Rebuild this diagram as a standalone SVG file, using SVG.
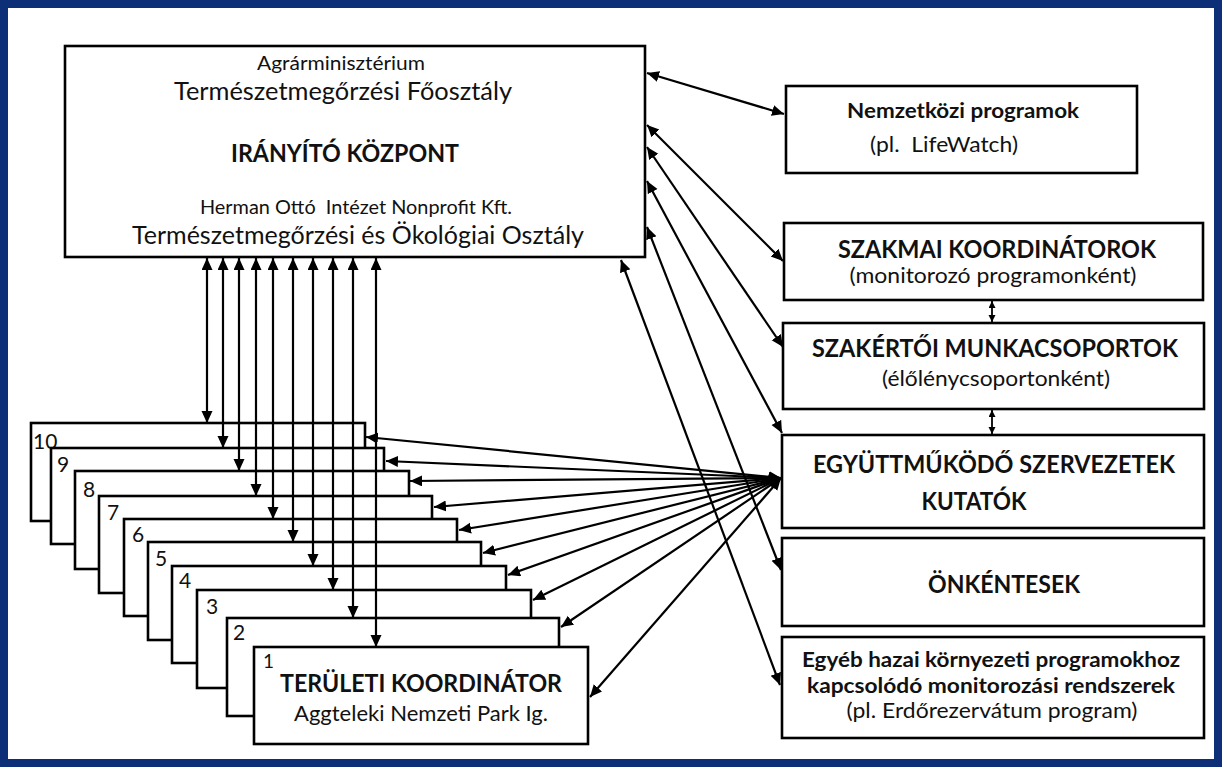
<svg xmlns="http://www.w3.org/2000/svg" width="1222" height="767" viewBox="0 0 1222 767">
<style>
  .box { fill: #ffffff; stroke: #000000; stroke-width: 2.6; }
  .t { font-family: Lato, "Liberation Sans", sans-serif; fill: #111111; text-anchor: middle; }
  .r27 { font-size: 24.3px; }
  .r24 { font-size: 21.6px; }
  .r21 { font-size: 19.5px; }
  .b27 { font-size: 24.3px; font-weight: bold; }
  .b24 { font-size: 21.6px; font-weight: bold; }
  .num { font-family: Lato, "Liberation Sans", sans-serif; font-size: 21px; fill: #111111; }
  .ln { fill: none; stroke: #000000; stroke-width: 2.2; marker-start: url(#ah); marker-end: url(#ah); }
  .sm { fill: none; stroke: #000000; stroke-width: 1.8; marker-start: url(#ahs); marker-end: url(#ahs); }
</style>
<defs>
  <marker id="ah" markerUnits="userSpaceOnUse" markerWidth="13" markerHeight="12" refX="12" refY="5.5" orient="auto-start-reverse">
    <path d="M0,0 L12,5.5 L0,11 z" fill="#000000"/>
  </marker>
  <marker id="ahs" markerUnits="userSpaceOnUse" markerWidth="8" markerHeight="8" refX="7" refY="3.5" orient="auto-start-reverse">
    <path d="M0,0 L7,3.5 L0,7 z" fill="#000000"/>
  </marker>
</defs>
<rect x="0" y="0" width="1222" height="767" fill="#ffffff"/>
<rect x="4" y="4" width="1214" height="759" fill="none" stroke="#0c2f78" stroke-width="8"/>

<g id="iranyito">
  <rect class="box" x="65" y="46" width="580" height="211"/>
  <text class="t r21" x="341" y="70" textLength="168" lengthAdjust="spacingAndGlyphs">Agrárminisztérium</text>
  <text class="t r27" x="343" y="100" textLength="338" lengthAdjust="spacingAndGlyphs">Természetmegőrzési Főosztály</text>
  <text class="t b27" x="345" y="162" textLength="228" lengthAdjust="spacingAndGlyphs">IRÁNYÍTÓ KÖZPONT</text>
  <text class="t r21" x="356" y="214" textLength="312" lengthAdjust="spacingAndGlyphs" xml:space="preserve">Herman Ottó  Intézet Nonprofit Kft.</text>
  <text class="t r27" x="358" y="244" textLength="452" lengthAdjust="spacingAndGlyphs">Természetmegőrzési és Ökológiai Osztály</text>
</g>

<g id="nemzetkozi">
  <rect class="box" x="786" y="86" width="351" height="87"/>
  <text class="t b24" x="963" y="118" textLength="232" lengthAdjust="spacingAndGlyphs">Nemzetközi programok</text>
  <text class="t r24" x="944" y="152" textLength="148" lengthAdjust="spacingAndGlyphs" xml:space="preserve">(pl.  LifeWatch)</text>
</g>

<g id="szakmai">
  <rect class="box" x="784" y="223" width="419" height="77"/>
  <text class="t b27" x="997" y="258" textLength="318" lengthAdjust="spacingAndGlyphs">SZAKMAI KOORDINÁTOROK</text>
  <text class="t r24" x="993" y="283" textLength="287" lengthAdjust="spacingAndGlyphs">(monitorozó programonként)</text>
</g>

<g id="szakertoi">
  <rect class="box" x="783" y="323" width="421" height="86"/>
  <text class="t b27" x="995" y="357" textLength="366" lengthAdjust="spacingAndGlyphs">SZAKÉRTŐI MUNKACSOPORTOK</text>
  <text class="t r24" x="996" y="386" textLength="228" lengthAdjust="spacingAndGlyphs">(élőlénycsoportonként)</text>
</g>

<g id="egyuttmukodo">
  <rect class="box" x="782" y="435" width="422" height="93"/>
  <text class="t b27" x="994" y="473" textLength="362" lengthAdjust="spacingAndGlyphs">EGYÜTTMŰKÖDŐ SZERVEZETEK</text>
  <text class="t b27" x="974" y="510" textLength="105" lengthAdjust="spacingAndGlyphs">KUTATÓK</text>
</g>

<g id="onkentesek">
  <rect class="box" x="782" y="538" width="422" height="88"/>
  <text class="t b27" x="1004" y="593" textLength="152" lengthAdjust="spacingAndGlyphs">ÖNKÉNTESEK</text>
</g>

<g id="egyeb">
  <rect class="box" x="782" y="637" width="422" height="101"/>
  <text class="t b24" x="991" y="667" textLength="378" lengthAdjust="spacingAndGlyphs">Egyéb hazai környezeti programokhoz</text>
  <text class="t b24" x="991" y="693" textLength="368" lengthAdjust="spacingAndGlyphs">kapcsolódó monitorozási rendszerek</text>
  <text class="t r24" x="992" y="718" textLength="291" lengthAdjust="spacingAndGlyphs">(pl. Erdőrezervátum program)</text>
</g>

<g id="terulet-10"><rect class="box" x="31" y="423" width="334" height="98"/><text class="num" x="33" y="449">10</text></g>
<g id="terulet-9"><rect class="box" x="51" y="448" width="333" height="96"/><text class="num" x="57" y="472">9</text></g>
<g id="terulet-8"><rect class="box" x="75" y="471" width="334" height="98"/><text class="num" x="83" y="497">8</text></g>
<g id="terulet-7"><rect class="box" x="99" y="496" width="333" height="97"/><text class="num" x="107" y="520">7</text></g>
<g id="terulet-6"><rect class="box" x="124" y="519" width="333" height="97"/><text class="num" x="132" y="542">6</text></g>
<g id="terulet-5"><rect class="box" x="148" y="542" width="333" height="98"/><text class="num" x="155" y="566">5</text></g>
<g id="terulet-4"><rect class="box" x="172" y="566" width="334" height="97"/><text class="num" x="179" y="588">4</text></g>
<g id="terulet-3"><rect class="box" x="197" y="590" width="334" height="98"/><text class="num" x="206" y="614">3</text></g>
<g id="terulet-2"><rect class="box" x="227" y="618" width="332" height="98"/><text class="num" x="233" y="640">2</text></g>
<g id="terulet-1">
  <rect class="box" x="254" y="647" width="334" height="97"/>
  <text class="num" x="263" y="668" style="font-size:19px">1</text>
  <text class="t b27" x="421" y="692" textLength="282" lengthAdjust="spacingAndGlyphs">TERÜLETI KOORDINÁTOR</text>
  <text class="t r24" x="421" y="721" textLength="254" lengthAdjust="spacingAndGlyphs">Aggteleki Nemzeti Park Ig.</text>
</g>

<g id="connectors">
  <line class="ln" x1="207" y1="258" x2="207" y2="423"/>
  <line class="ln" x1="223" y1="258" x2="223" y2="448"/>
  <line class="ln" x1="239" y1="258" x2="239" y2="471"/>
  <line class="ln" x1="256" y1="258" x2="256" y2="496"/>
  <line class="ln" x1="273" y1="258" x2="273" y2="519"/>
  <line class="ln" x1="293" y1="258" x2="293" y2="542"/>
  <line class="ln" x1="313" y1="258" x2="313" y2="566"/>
  <line class="ln" x1="333" y1="258" x2="333" y2="590"/>
  <line class="ln" x1="353" y1="258" x2="353" y2="618"/>
  <line class="ln" x1="376" y1="258" x2="376" y2="647"/>

  <line class="ln" x1="781" y1="478" x2="366" y2="437"/>
  <line class="ln" x1="781" y1="478" x2="386" y2="461"/>
  <line class="ln" x1="781" y1="478" x2="410" y2="481"/>
  <line class="ln" x1="781" y1="478" x2="434" y2="507"/>
  <line class="ln" x1="781" y1="478" x2="459" y2="530"/>
  <line class="ln" x1="781" y1="478" x2="483" y2="553"/>
  <line class="ln" x1="781" y1="478" x2="508" y2="575"/>
  <line class="ln" x1="781" y1="478" x2="533" y2="600"/>
  <line class="ln" x1="781" y1="478" x2="561" y2="627"/>
  <line class="ln" x1="781" y1="478" x2="590" y2="697"/>

  <line class="ln" x1="647" y1="73" x2="784" y2="114"/>
  <line class="ln" x1="647" y1="125" x2="783" y2="261"/>
  <line class="ln" x1="647" y1="147" x2="783" y2="347"/>
  <line class="ln" x1="647" y1="181" x2="782" y2="433"/>
  <line class="ln" x1="647" y1="227" x2="781" y2="570"/>
  <line class="ln" x1="621" y1="260" x2="780" y2="685"/>

  <line class="sm" x1="992" y1="301" x2="992" y2="322"/>
  <line class="sm" x1="992" y1="410" x2="992" y2="434"/>
</g>
</svg>
